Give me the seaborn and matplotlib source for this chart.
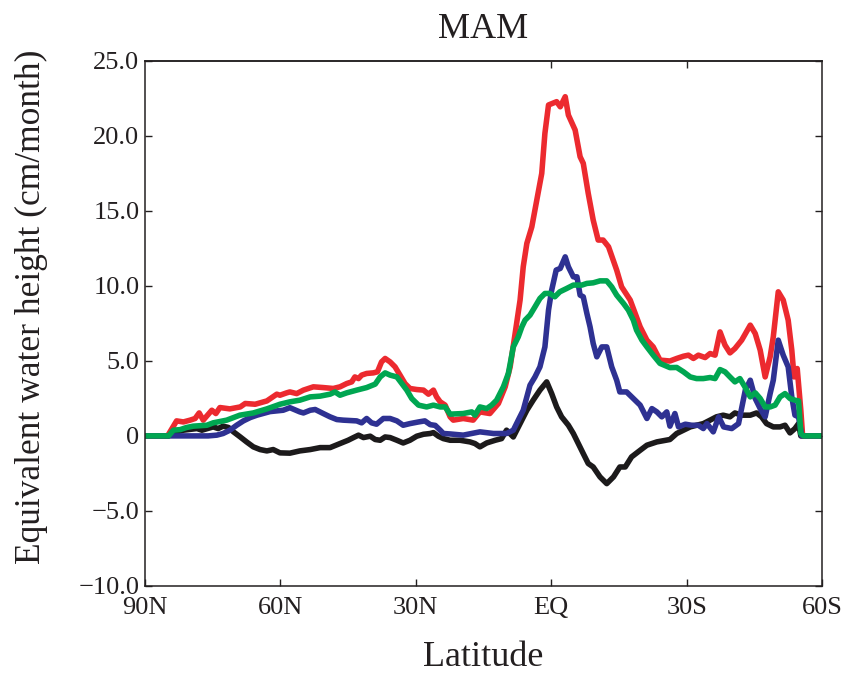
import numpy as np
import pandas as pd
import matplotlib
matplotlib.use("Agg")
import matplotlib.pyplot as plt
import seaborn as sns
from matplotlib.ticker import FuncFormatter

# latitude (deg, + = north) / value (cm/month) pairs
red_lat = [90, 85, 83, 81.5, 80, 78.9, 78, 77.1, 75.2, 74.3, 73.4, 71.2, 68.9, 67.8, 65.6, 63, 60.8, 60.1,
           58.6, 57.9, 56.4, 54.9, 52.7, 50.5, 48.3, 46.8, 45.3, 44.2, 43.5, 42.7, 42, 40.9, 39.4, 38.5,
           37.6, 36.8, 35.7, 34.6, 33.5, 32.4, 31.3, 29.8, 28.3, 27.2, 26.1, 25.4, 24.6, 23.5, 22.4, 21.7,
           19.5, 17.3, 15.8, 13.6, 11.7, 10.2, 9.1, 8, 6.9, 6.2, 5.4, 4.3, 3.2, 2.1, 1.4, 0.6, -1.2, -2,
           -3.1, -3.8, -5.3, -6.4, -7.1, -8.2, -9.3, -10.4, -11.5, -12.7, -14.5, -15.6, -17.5, -18.6,
           -19.7, -21.2, -22.6, -24.1, -26.3, -27.8, -29.3, -30.4, -31.5, -32.6, -34.1, -35.2, -36.3,
           -37.4, -38.5, -39.6, -40.7, -42.2, -44.1, -45.2, -46.3, -47.4, -48.5, -49.2, -50.3, -51.4,
           -52.5, -53.3, -53.8, -54.5, -55.3, -55.7, -60]
red_val = [0, 0, 1.0, 0.93, 1.05, 1.16, 1.53, 1.05, 1.71, 1.49, 1.89, 1.8, 1.93, 2.16, 2.11, 2.33, 2.78, 2.71,
           2.87, 2.93, 2.82, 3.05, 3.27, 3.22, 3.16, 3.27, 3.49, 3.6, 3.93, 3.82, 4.05, 4.16, 4.2, 4.27,
           4.93, 5.16, 4.93, 4.6, 4.05, 3.49, 3.16, 3.09, 3.05, 2.78, 3.05, 2.6, 2.27, 2.05, 1.27, 1.05,
           1.16, 1.05, 1.6, 1.49, 2.16, 3.27, 4.6, 6.82, 9.05, 11.27, 12.83, 13.93, 15.71, 17.49, 20.16,
           22.05, 22.27, 21.93, 22.6, 21.38, 20.38, 18.6, 18.16, 16.16, 14.38, 13.05, 13.05, 12.6, 11.05,
           9.93, 9.05, 8.16, 7.27, 6.38, 5.93, 5.05, 4.99, 5.16, 5.31, 5.38, 5.16, 5.38, 5.22, 5.49, 5.38,
           6.93, 6.05, 5.53, 5.82, 6.38, 7.38, 6.82, 5.71, 3.93, 5.27, 6.6, 9.6, 9.05, 7.71, 5.71, 3.93,
           4.49, 1.71, 0, 0]

green_lat = [90, 84.8, 83.7, 82.2, 80.8, 79.3, 76.3, 74.9, 71.9, 69, 66, 63, 60.1, 57.9, 55.7, 53.4, 51.2,
             49, 47.9, 46.8, 45.3, 43.1, 40.9, 39, 37.9, 36.8, 35.7, 34.2, 33.1, 32, 30.9, 29.4, 27.6, 26.1,
             24.6, 23.5, 22.4, 19.5, 17.6, 16.9, 15.8, 14.3, 13.2, 12.1, 10.6, 9.5, 8.4, 7.3, 6.5, 5.8, 4.7,
             3.6, 2.5, 1.4, 0.3, -0.8, -1.9, -3.4, -4.9, -6.8, -7.9, -9.3, -10.8, -12.3, -13.4, -14.5, -16,
             -17.1, -18.2, -18.9, -20.1, -21.2, -22.6, -24.1, -26.3, -27.8, -29.3, -30.8, -32.2, -33.7,
             -35.2, -36.3, -37.4, -38.5, -39.6, -40.7, -41.8, -42.9, -44.1, -45.2, -46.3, -47.4, -48.5,
             -49.6, -50.7, -51.8, -52.9, -54, -54.8, -55.3, -55.9, -60]
green_val = [0, 0, 0.38, 0.42, 0.56, 0.65, 0.71, 0.87, 1.05, 1.38, 1.53, 1.8, 2.11, 2.27, 2.38, 2.6, 2.65,
             2.78, 2.93, 2.71, 2.87, 3.05, 3.22, 3.45, 3.93, 4.2, 4.05, 3.93, 3.49, 3.05, 2.49, 2.05, 1.93,
             2.05, 1.93, 1.93, 1.45, 1.49, 1.6, 1.38, 1.93, 1.82, 2.05, 2.38, 3.27, 4.16, 5.93, 6.6, 7.27,
             7.71, 8.05, 8.6, 9.16, 9.49, 9.49, 9.27, 9.6, 9.82, 10.05, 10.05, 10.16, 10.2, 10.33, 10.33,
             9.93, 9.38, 8.83, 8.38, 7.71, 7.05, 6.38, 5.93, 5.38, 4.83, 4.55, 4.56, 4.27, 3.93, 3.82, 3.82,
             3.89, 3.82, 4.42, 4.27, 3.93, 3.6, 3.82, 3.27, 2.6, 2.87, 2.49, 1.93, 1.93, 2.05, 2.6, 2.82,
             2.49, 2.38, 2.33, 0.16, 0, 0]

blue_lat = [90, 76, 74.1, 72.7, 71.2, 69.7, 68.2, 66.7, 65.2, 62.3, 59.4, 57.9, 55.7, 54.9, 53.4, 52.3,
            50.5, 49, 47.5, 46.1, 43.1, 42, 40.9, 39.8, 38.7, 37.2, 35.7, 34.2, 32.8, 31.3, 29.4, 28, 26.8,
            25.7, 24.6, 23.9, 22.4, 19.5, 15.8, 12.8, 9.9, 8.4, 7.3, 6.2, 5.4, 4.7, 3.6, 2.5, 1.4, 0.6,
            -0.1, -1.1, -2, -3.1, -3.8, -4.9, -5.7, -6.4, -7.1, -7.9, -8.6, -9.3, -10.1, -11.2, -12.3,
            -13.4, -14.5, -15.2, -16.7, -18.2, -19.7, -21.2, -22.3, -23.4, -24.5, -25.6, -26.3, -27.4,
            -28.2, -29.7, -31.1, -32.6, -33.7, -34.5, -35.9, -37.1, -38.2, -40, -41.5, -43, -44.1, -45.2,
            -46.3, -47.4, -48.5, -49.2, -50.3, -51.4, -52.5, -53.3, -54, -54.8, -55.5, -60]
blue_val = [0, 0, 0.05, 0.16, 0.38, 0.71, 1.0, 1.22, 1.38, 1.62, 1.71, 1.88, 1.6, 1.53, 1.71, 1.76, 1.49,
            1.27, 1.09, 1.05, 1.0, 0.87, 1.16, 0.87, 0.78, 1.16, 1.16, 1.0, 0.71, 0.82, 0.93, 1.0, 0.75,
            0.7, 0.38, 0.16, 0.13, 0.05, 0.27, 0.16, 0.16, 0.38, 1.05, 1.71, 2.6, 3.38, 3.93, 4.6, 5.93,
            8.38, 9.71, 11.05, 11.16, 11.93, 11.27, 10.6, 10.6, 9.38, 9.27, 8.16, 7.27, 6.16, 5.27, 5.93,
            5.93, 4.6, 3.71, 2.93, 2.93, 2.49, 2.05, 1.16, 1.82, 1.6, 1.27, 1.6, 0.65, 1.49, 0.6, 0.78,
            0.71, 0.71, 0.49, 0.82, 0.27, 1.27, 0.6, 0.49, 0.82, 3.05, 3.71, 2.49, 1.82, 1.27, 2.82, 3.71,
            6.38, 5.38, 4.6, 2.6, 1.38, 1.27, 0, 0]

black_lat = [90, 84.8, 83, 81.5, 78.5, 77.4, 74.9, 73.8, 72.7, 71.5, 70.4, 68.9, 67.5, 66, 64.5, 63, 61.6,
             60.1, 57.9, 55.7, 53.4, 51.2, 49, 46.8, 45, 43.8, 42.7, 41.6, 40.1, 39, 37.9, 36.8, 35.7, 34.2,
             32.8, 31.3, 29.8, 28.3, 26.8, 26.1, 25, 23.9, 22.4, 20.2, 18, 16.9, 15.8, 14.3, 12.4, 11, 9.9,
             8.4, 6.9, 5.4, 4, 2.5, 1, -0.1, -1.2, -2.3, -3.8, -4.9, -6, -7.1, -8.2, -9.3, -10.8, -12.3,
             -13.8, -15.2, -16.4, -17.8, -19.7, -21.2, -23.4, -26.3, -27.8, -29.3, -30.8, -32.2, -33.7,
             -35.2, -36.6, -38.1, -39.6, -40.7, -42.2, -44.1, -45.5, -46.6, -47.7, -49.2, -50.7, -51.8,
             -52.9, -54, -54.8, -55.3, -60]
black_val = [0, 0, 0.27, 0.38, 0.49, 0.38, 0.6, 0.49, 0.65, 0.56, 0.27, -0.07, -0.4, -0.73, -0.91, -1.0,
             -0.91, -1.13, -1.15, -1.0, -0.91, -0.78, -0.78, -0.51, -0.29, -0.11, 0.05, -0.11, -0.02, -0.24,
             -0.29, -0.07, -0.11, -0.29, -0.47, -0.29, -0.02, 0.11, 0.16, 0.22, -0.02, -0.18, -0.29, -0.29,
             -0.4, -0.51, -0.73, -0.47, -0.29, -0.18, 0.38, -0.07, 0.82, 1.71, 2.38, 3.05, 3.6, 2.82, 1.93,
             1.27, 0.71, 0.16, -0.51, -1.18, -1.84, -2.07, -2.73, -3.18, -2.73, -2.07, -2.07, -1.4, -0.96,
             -0.62, -0.4, -0.24, 0.16, 0.38, 0.6, 0.71, 0.82, 1.05, 1.27, 1.38, 1.27, 1.53, 1.38, 1.38,
             1.53, 1.27, 0.82, 0.6, 0.6, 0.71, 0.2, 0.49, 0.82, 0, 0]

series = [("black", black_lat, black_val, "#1c1a1b"),
          ("red", red_lat, red_val, "#ec2a2f"),
          ("blue", blue_lat, blue_val, "#2e3192"),
          ("green", green_lat, green_val, "#00a651")]

xticks = [90, 60, 30, 0, -30, -60]
xticklabels = ["90N", "60N", "30N", "EQ", "30S", "60S"]
yticks = [-10, -5, 0, 5, 10, 15, 20, 25]

sns.set_style("ticks")
plt.rcParams['font.family'] = ['Liberation Serif', 'DejaVu Serif']

fig = plt.figure(figsize=(8.5, 6.73), dpi=100)
ax = fig.add_axes([0.1706, 0.1293, 0.7965, 0.7805])

for name, lat, val, col in series:
    df = pd.DataFrame({"lat": lat, "val": val})
    sns.lineplot(data=df, x="lat", y="val", ax=ax, color=col, lw=4,
                 sort=False, estimator=None, solid_joinstyle="round")

ax.set_xlim(90, -60)
ax.set_ylim(-10, 25)
ax.set_xticks(xticks)
ax.set_xticklabels(xticklabels)
ax.set_yticks(yticks)


def yfmt(v, pos):
    if abs(v) < 1e-9:
        return "0"
    return ("%.1f" % v).replace("-", "\u2212")


ax.yaxis.set_major_formatter(FuncFormatter(yfmt))
ax.tick_params(axis="both", direction="in", length=5, width=1, labelsize=19, colors="#231f20")
ax.tick_params(axis="x", pad=8, top=False)
ax.tick_params(axis="y", pad=4, right=True)

top = ax.secondary_xaxis("top")
top.set_xticks([0, -30])
top.tick_params(direction="in", length=5, width=1, labeltop=False)

for sp in ax.spines.values():
    sp.set_linewidth(1.1)
    sp.set_color("#231f20")
top.spines["top"].set_linewidth(1.1)

ax.set_title("MAM", fontsize=26, pad=16, color="#231f20")
ax.set_xlabel("Latitude", fontsize=26, labelpad=16, color="#231f20")
ax.set_ylabel("Equivalent water height (cm/month)", fontsize=25.5, color="#231f20")
ax.yaxis.set_label_coords(-0.143, 0.531)

fig.savefig("out.png", dpi=100)
